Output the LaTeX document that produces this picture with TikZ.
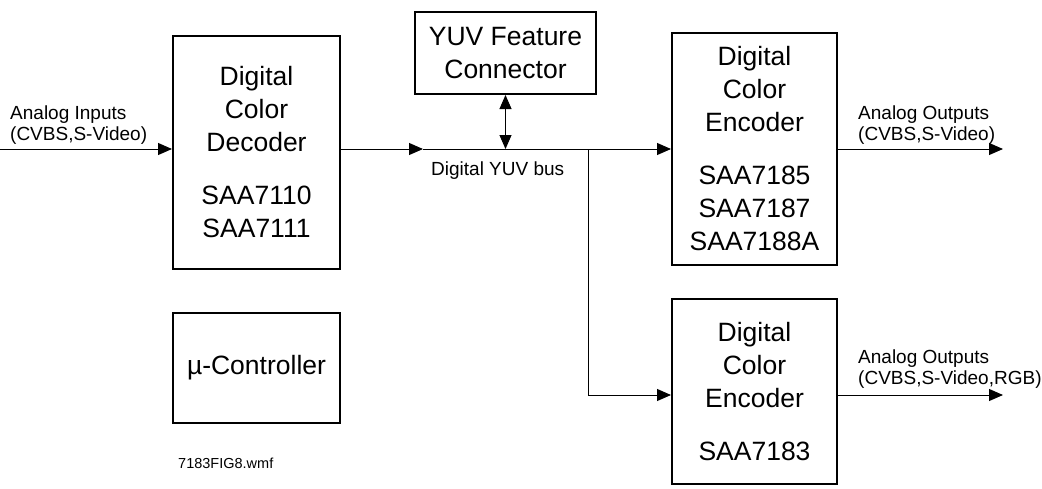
\documentclass[tikz,border=0pt]{standalone}
\usepackage{fontspec}
\setmainfont{Liberation Sans}
\usetikzlibrary{arrows.meta}
\begin{document}
\begin{tikzpicture}[x=1pt,y=-1pt,
  blk/.style={draw,line width=2pt,inner sep=0pt,align=center,
    font=\fontsize{26.5}{33}\selectfont},
  lbl/.style={inner sep=0pt,align=left,font=\fontsize{19}{21}\selectfont},
  wire/.style={line width=1pt},
  arr/.style={wire,-{Triangle[length=14pt,width=12pt]}},
  darr/.style={wire,{Triangle[length=14pt,width=12pt]}-{Triangle[length=14pt,width=12pt]}}]
\useasboundingbox (0,0) rectangle (1042,488);
% boxes
\node[blk,minimum width=167pt,minimum height=233pt] (dec) at (256.5,152.5)
  {Digital\\Color\\Decoder\\[20pt]SAA7110\\SAA7111};
\node[blk,minimum width=181pt,minimum height=82pt] (yuv) at (505.5,53)
  {YUV Feature\\Connector};
\node[blk,minimum width=165pt,minimum height=232pt] (enc1) at (754.5,149)
  {Digital\\Color\\Encoder\\[20pt]SAA7185\\SAA7187\\SAA7188A};
\node[blk,minimum width=165pt,minimum height=185pt] (enc2) at (754.5,391.5)
  {Digital\\Color\\Encoder\\[20pt]SAA7183};
\node[blk,minimum width=167pt,minimum height=110pt] (mc) at (256.5,368)
  {µ-Controller};
% coordinates
\coordinate (in) at (0,149);
\coordinate (busmid) at (423,149);
\coordinate (branch) at (588,149);
\coordinate (corner) at (588,395);
\coordinate (out1) at (1003,149);
\coordinate (out2) at (1003,395);
% connectors
\draw[arr] (in) -- (in -| dec.west);
\draw[arr] (in -| dec.east) -- (busmid);
\draw[arr] (busmid) -- (in -| enc1.west);
\draw[darr] (yuv.south) -- (yuv.south |- in);
\draw[arr] (branch) -- (corner) -- (corner -| enc2.west);
\draw[arr] (in -| enc1.east) -- (out1);
\draw[arr] (corner -| enc2.east) -- (out2);
% labels
\node[lbl,anchor=west] (lin) at (10,125) {Analog Inputs\\(CVBS,S-Video)};
\node[lbl,anchor=west] (lbus) at (431,171) {Digital YUV bus};
\node[lbl,anchor=west] (lo1) at (858,125) {Analog Outputs\\(CVBS,S-Video)};
\node[lbl,anchor=west] (lo2) at (858,369) {Analog Outputs\\(CVBS,S-Video,RGB)};
\node[inner sep=0pt,anchor=west,font=\fontsize{14.5}{17}\selectfont] (fig) at (178,463) {7183FIG8.wmf};
\end{tikzpicture}
\end{document}
